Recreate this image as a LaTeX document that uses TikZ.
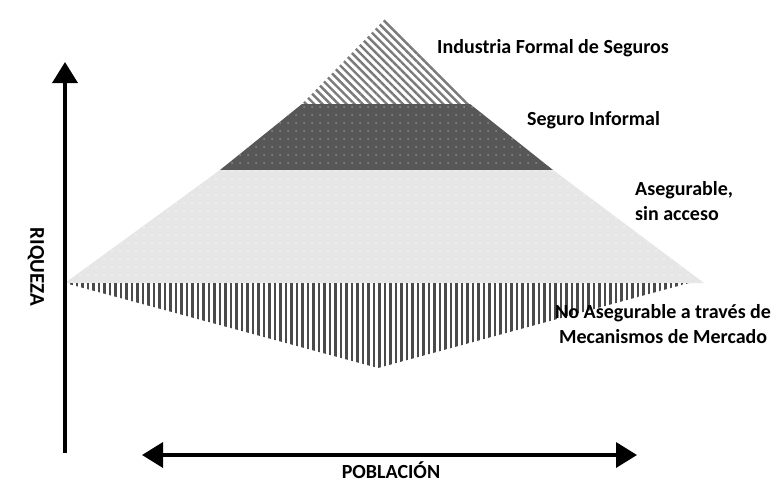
\documentclass[tikz,border=0pt]{standalone}
\usepackage{fontspec}
\setmainfont{Carlito}
\usetikzlibrary{arrows.meta,patterns.meta}
\definecolor{rayas}{HTML}{7A7A7A}
\definecolor{oscuro}{HTML}{575757}
\definecolor{puntos}{HTML}{8C8C8C}
\definecolor{claro}{HTML}{E6E6E6}
\definecolor{barras}{HTML}{4A4A4A}
\tikzset{
	etiqueta/.style={inner sep=0pt, anchor=base west, align=left, font=\fontsize{20}{25}\selectfont\bfseries},
	eje/.style={line width=3.5pt},
	punta/.style={-{Triangle[width=25pt,length=21pt]}}
}
\begin{document}
\begin{tikzpicture}[x=1pt,y=-1pt]
			\useasboundingbox[fill=white] (0,0) rectangle (773,483);

			\fill[white] (385,19)--(302,104)--(470,104)--cycle;
			\fill[pattern={Lines[angle=-45,distance=5.7pt,line width=2.4pt]}, pattern color=rayas] (385,19)--(302,104)--(470,104)--cycle;
			\fill[oscuro] (302,104)--(470,104)--(553,170)--(220,170)--cycle;
			\fill[pattern={Dots[radius=1pt,distance=8pt]}, pattern color=puntos] (302,104)--(470,104)--(553,170)--(220,170)--cycle;
			\fill[claro] (220,170)--(553,170)--(704,283)--(65,283)--cycle;
			\fill[pattern={Dots[radius=0.9pt,distance=8pt]}, pattern color=white!60!claro] (220,170)--(553,170)--(704,283)--(65,283)--cycle;
			\fill[pattern={Lines[angle=90,distance=5.5pt,line width=2.6pt]}, pattern color=barras] (65,283)--(689,283)--(378,368)--cycle;

			\coordinate (riqbot) at (65,453);
			\coordinate (riqtop) at (65,62);
			\draw[eje,punta] (riqbot) -- (riqtop);
			\coordinate (pobizq) at (142,455);
			\coordinate (pobder) at (637,455);
			\draw[eje,{Triangle[width=25pt,length=21pt]}-{Triangle[width=25pt,length=21pt]}] (pobizq) -- (pobder);

			\node[etiqueta, anchor=center, rotate=-90, font=\fontsize{21}{25}\selectfont\bfseries] (riqueza) at (36,267) {RIQUEZA};
			\node[etiqueta, anchor=base] (poblacion) at (391,478) {POBLACIÓN};

			\node[etiqueta] (formal) at (437,53) {Industria Formal de Seguros};
			\node[etiqueta] (informal) at (527,125) {Seguro Informal};
			\node[etiqueta] (asegurable) at (635,220) {Asegurable,\\sin acceso};
			\node[etiqueta, align=center] (noasegurable) at (555,343) {No Asegurable a través de\\Mecanismos de Mercado};
		\end{tikzpicture}
\end{document}
